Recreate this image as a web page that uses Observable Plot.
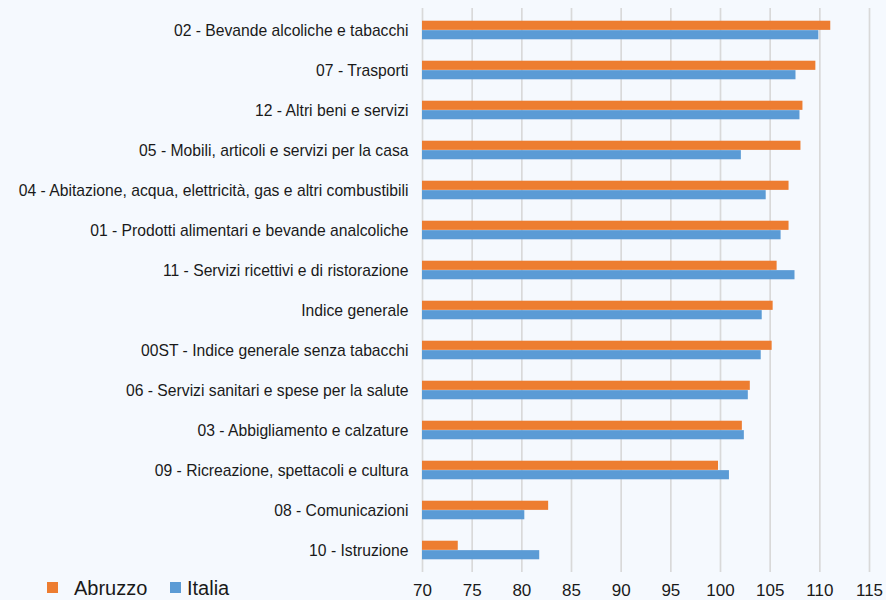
<!DOCTYPE html>
<html>
<head>
<meta charset="utf-8">
<script src="https://cdn.jsdelivr.net/npm/d3@7"></script>
<script src="https://cdn.jsdelivr.net/npm/@observablehq/plot@0.6"></script>
<style>
  html, body { margin: 0; padding: 0; background: #F5F9FE; }
  #wrap { position: relative; width: 886px; height: 600px; overflow: hidden;
          font-family: "Liberation Sans", Arial, sans-serif; }
  #chart { position: absolute; left: 0; top: 0; }
  .lg { position: absolute; font-size: 20px; color: #1a1a1a; line-height: 20px; }
  .sw { position: absolute; width: 11px; height: 11px; }
</style>
</head>
<body>
<div id="wrap">
  <div id="chart"></div>
  <div id="legend"></div>
</div>
<script>
const categories = [
  "02 - Bevande alcoliche e tabacchi",
  "07 - Trasporti",
  "12 - Altri beni e servizi",
  "05 - Mobili, articoli e servizi per la casa",
  "04 - Abitazione, acqua, elettricità, gas e altri combustibili",
  "01 - Prodotti alimentari e bevande analcoliche",
  "11 - Servizi ricettivi e di ristorazione",
  "Indice generale",
  "00ST - Indice generale senza tabacchi",
  "06 - Servizi sanitari e spese per la salute",
  "03 - Abbigliamento e calzature",
  "09 - Ricreazione, spettacoli e cultura",
  "08 - Comunicazioni",
  "10 - Istruzione"
];
const abruzzo = [111.1, 109.6, 108.3, 108.1, 106.9, 106.9, 105.7, 105.3, 105.2, 103.0, 102.2, 99.8, 82.7, 73.6];
const italia  = [109.9, 107.6, 108.0, 102.1, 104.6, 106.1, 107.5, 104.2, 104.1, 102.8, 102.4, 100.9, 80.3, 81.8];
const seriesNames = ["Abruzzo", "Italia"];
const seriesColors = ["#ED7D31", "#5B9BD5"];
const xTicks = [70, 75, 80, 85, 90, 95, 100, 105, 110, 115];
const xDomain = [70, 115];

const rows = categories.map((c, i) => ({ cat: c, abruzzo: abruzzo[i], italia: italia[i] }));

const H = 600, mTop = 8, mBottom = 28;
const band = (H - mTop - mBottom) / categories.length;
const barH = band * 0.234;
const pad = (band - 2 * barH) / 2;

const chart = Plot.plot({
  width: 886,
  height: H,
  marginLeft: 422,
  marginRight: 17,
  marginTop: mTop,
  marginBottom: mBottom,
  style: { background: "transparent", fontFamily: "'Liberation Sans', Arial, sans-serif", color: "#1a1a1a" },
  x: { domain: xDomain, axis: null },
  y: { domain: categories, padding: 0, axis: null },
  marks: [
    Plot.ruleX(xTicks, { stroke: "#D9D9D9", strokeWidth: 1.7 }),
    Plot.barX(rows, { y: "cat", x1: xDomain[0], x2: "abruzzo", fill: seriesColors[0],
      insetTop: pad, insetBottom: pad + barH }),
    Plot.barX(rows, { y: "cat", x1: xDomain[0], x2: "italia", fill: seriesColors[1],
      insetTop: pad + barH, insetBottom: pad }),
    Plot.axisX({ ticks: xTicks, tickSize: 0, tickPadding: 11, fontSize: 17, label: null, tickFormat: d => String(d) }),
    Plot.axisY({ tickSize: 0, tickPadding: 14, fontSize: 15.7, label: null })
  ]
});
document.getElementById("chart").appendChild(chart);

// Legend
const legend = document.getElementById("legend");
const items = [
  { sx: 47, tx: 74 },
  { sx: 170, tx: 187 }
];
seriesNames.forEach((name, i) => {
  const sw = document.createElement("div");
  sw.className = "sw";
  sw.style.left = items[i].sx + "px";
  sw.style.top = "582px";
  sw.style.background = seriesColors[i];
  legend.appendChild(sw);
  const t = document.createElement("div");
  t.className = "lg";
  t.style.left = items[i].tx + "px";
  t.style.top = "578px";
  t.textContent = name;
  legend.appendChild(t);
});
</script>
</body>
</html>
